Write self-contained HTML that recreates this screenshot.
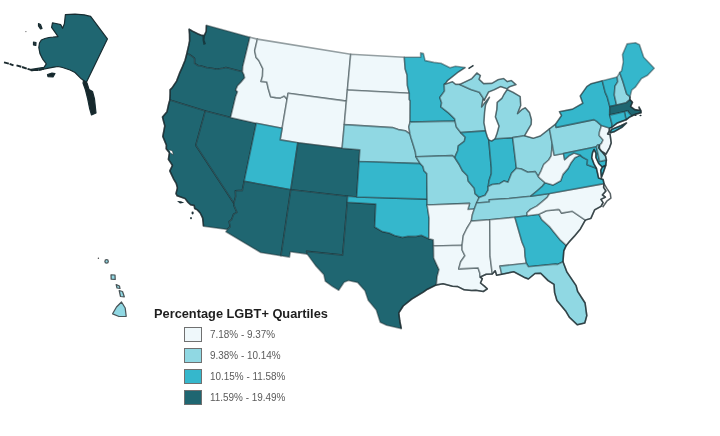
<!DOCTYPE html>
<html><head><meta charset="utf-8"><style>
html,body{margin:0;padding:0;background:#fff;}
body{width:720px;height:436px;overflow:hidden;position:relative;font-family:"Liberation Sans",sans-serif;}
svg{position:absolute;left:0;top:0;}
.d{fill:#1f6671;} .t{fill:#35b7cc;} .l{fill:#90d8e3;} .v{fill:#eff8fb;}
#map path{stroke:rgba(28,46,52,0.45);stroke-width:1.6;stroke-linejoin:round;}
svg{filter:blur(0.45px);}
.lt{position:absolute;left:154px;top:305.5px;font-weight:bold;font-size:12.8px;color:#1e1e1e;filter:blur(0.25px);white-space:nowrap;}
.lb{position:absolute;left:184px;width:16px;height:13px;border:1px solid #707070;}
.ll{position:absolute;left:210px;font-size:10.5px;color:#5a5a5a;filter:blur(0.25px);white-space:nowrap;transform:scaleX(0.945);transform-origin:0 0;}
</style></head><body>
<svg width="720" height="436" viewBox="0 0 720 436">
<g id="map">
<path class="d" d="M206.4,25.2 249.9,37.3 242.8,66.6 242.5,71.8 225.9,67.5 223.1,68.2 216.8,69.3 211.5,68.2 206.8,67.7 201.2,66.0 198.3,65.7 194.6,63.4 194.5,58.4 192.1,56.4 189.2,54.5 186.8,53.7 188.7,45.4 189.6,40.8 189.5,33.9 189.1,29.2 192.5,31.2 197.6,33.7 201.6,35.4 204.4,35.4 206.2,31.3 206.4,25.2Z"/><path class="d" d="M242.5,71.8 225.9,67.5 223.1,68.2 216.8,69.3 211.5,68.2 206.8,67.7 201.2,66.0 198.3,65.7 194.6,63.4 194.5,58.4 192.1,56.4 189.2,54.5 186.8,53.7 185.1,60.3 182.4,66.9 179.5,73.4 176.6,81.1 172.1,87.8 170.1,89.7 170.1,93.9 169.8,100.1 205.3,110.9 230.6,117.5 235.6,96.8 237.5,91.8 235.7,90.1 237.6,85.8 241.0,82.3 244.7,77.7 243.8,74.3 242.5,71.8Z"/><path class="d" d="M169.8,100.1 205.3,110.9 195.8,145.2 233.9,203.3 234.0,205.7 237.0,212.4 233.6,214.3 231.6,219.7 229.1,221.6 230.3,226.6 227.5,229.4 203.5,226.2 203.1,222.2 202.6,217.8 200.2,213.0 197.4,209.9 194.7,208.5 194.2,205.6 190.6,204.8 188.1,202.5 185.1,198.6 177.2,195.8 176.0,193.6 177.4,187.9 176.2,183.3 173.5,178.8 169.8,170.9 172.4,165.5 171.1,163.3 168.4,159.3 169.4,152.8 166.2,148.7 166.4,145.1 162.8,136.5 164.8,125.9 163.7,121.8 162.5,117.0 167.0,111.7 168.8,103.5 169.8,100.1Z"/><path class="d" d="M205.3,110.9 230.6,117.5 256.3,123.3 244.2,181.3 242.3,190.6 238.9,190.5 235.4,190.9 235.7,196.4 233.9,203.3 195.8,145.2 205.3,110.9Z"/><path class="v" d="M249.9,37.3 257.4,39.1 254.7,50.8 256.1,57.4 258.8,60.5 262.8,68.6 262.5,76.3 261.0,81.4 266.8,82.0 268.4,89.0 270.7,96.7 275.7,97.6 280.4,97.9 284.2,96.0 287.1,99.1 282.1,128.3 256.3,123.3 230.6,117.5 235.6,96.8 237.5,91.8 235.7,90.1 237.6,85.8 241.0,82.3 244.7,77.7 243.8,74.3 242.5,71.8 242.8,66.6 249.9,37.3Z"/><path class="v" d="M257.4,39.1 350.7,54.3 347.4,90.0 346.4,101.1 288.1,93.3 287.1,99.1 284.2,96.0 280.4,97.9 275.7,97.6 270.7,96.7 268.4,89.0 266.8,82.0 261.0,81.4 262.5,76.3 262.8,68.6 258.8,60.5 256.1,57.4 254.7,50.8 257.4,39.1Z"/><path class="v" d="M346.4,101.1 288.1,93.3 287.1,99.1 282.1,128.3 280.1,139.9 297.8,142.8 342.1,148.2 344.3,124.6 346.4,101.1Z"/><path class="t" d="M282.1,128.3 256.3,123.3 244.2,181.3 290.8,189.7 297.8,142.8 280.1,139.9 282.1,128.3Z"/><path class="d" d="M342.1,148.2 297.8,142.8 290.8,189.7 347.7,196.3 356.7,197.0 359.1,161.5 359.9,149.7 342.1,148.2Z"/><path class="d" d="M290.8,189.7 244.2,181.3 242.3,190.6 238.9,190.5 235.4,190.9 235.7,196.4 233.9,203.3 234.0,205.7 237.0,212.4 233.6,214.3 231.6,219.7 229.1,221.6 230.3,226.6 227.5,229.4 225.9,231.7 260.7,252.5 281.0,255.8 290.8,189.7Z"/><path class="d" d="M347.7,196.3 290.8,189.7 281.0,255.8 289.5,257.1 290.3,251.8 307.2,254.1 306.6,251.4 342.7,255.1 347.3,202.2 347.7,196.3Z"/><path class="d" d="M347.3,202.2 342.7,255.1 306.6,251.4 307.2,254.1 315.5,265.4 323.8,274.6 325.3,281.2 332.2,286.3 338.7,290.2 344.1,282.2 348.4,280.5 357.6,282.4 365.0,290.7 368.2,300.2 376.3,309.9 380.2,322.2 386.6,325.3 395.3,327.3 401.3,328.6 399.8,321.0 398.8,312.9 403.2,306.0 411.7,299.1 423.3,292.1 427.5,289.2 436.4,284.9 437.1,276.7 439.0,269.6 436.3,263.8 433.7,258.0 433.5,246.0 433.3,239.8 428.9,238.8 421.3,235.2 415.9,236.4 408.0,236.3 402.5,237.4 394.6,235.5 389.3,233.0 382.4,231.6 374.7,227.0 375.8,204.1 347.3,202.2Z"/><path class="t" d="M356.7,197.0 347.7,196.3 347.3,202.2 375.8,204.1 374.7,227.0 382.4,231.6 389.3,233.0 394.6,235.5 402.5,237.4 408.0,236.3 415.9,236.4 421.3,235.2 428.9,238.8 429.1,218.1 427.1,205.0 427.1,199.1 356.7,197.0Z"/><path class="v" d="M350.7,54.3 404.3,57.2 405.2,69.0 407.1,74.9 407.4,85.4 409.3,93.2 347.4,90.0 350.7,54.3Z"/><path class="v" d="M409.3,93.2 347.4,90.0 346.4,101.1 344.3,124.6 392.3,127.6 398.3,129.6 405.2,130.7 410.0,134.0 408.8,126.8 410.1,122.1 410.2,100.8 409.3,99.6 409.3,93.2Z"/><path class="l" d="M410.0,134.0 405.2,130.7 398.3,129.6 392.3,127.6 344.3,124.6 342.1,148.2 359.9,149.7 359.1,161.5 420.2,163.6 417.1,158.8 416.0,156.7 415.3,151.7 413.5,145.8 410.9,137.5 410.0,134.0Z"/><path class="t" d="M420.2,163.6 359.1,161.5 356.7,197.0 427.1,199.1 426.8,173.6 424.0,170.7 423.0,166.5 420.2,163.6Z"/><path class="t" d="M404.3,57.2 420.7,57.3 420.6,52.9 423.4,53.6 425.1,60.6 433.8,62.4 441.0,63.3 450.0,67.7 455.5,66.2 465.2,67.5 457.5,72.6 447.4,80.7 445.8,83.1 444.2,84.3 444.5,91.1 439.8,97.5 441.6,102.8 440.9,106.9 445.3,110.3 448.8,113.1 454.7,118.8 455.0,121.1 410.1,122.1 410.2,100.8 409.3,99.6 409.3,93.2 407.4,85.4 407.1,74.9 405.2,69.0 404.3,57.2Z"/><path class="l" d="M455.0,121.1 410.1,122.1 408.8,126.8 410.0,134.0 410.9,137.5 413.5,145.8 415.3,151.7 416.0,156.7 452.3,155.6 455.2,158.2 455.3,156.1 457.7,150.7 458.3,145.9 464.3,141.4 465.3,137.2 460.7,132.6 456.4,127.0 455.0,121.1Z"/><path class="l" d="M455.2,158.2 452.3,155.6 416.0,156.7 417.1,158.8 420.2,163.6 423.0,166.5 424.0,170.7 426.8,173.6 427.1,199.1 427.1,205.0 469.6,203.4 467.9,209.5 474.3,209.0 476.6,203.0 479.2,197.4 475.1,193.6 474.3,188.3 468.2,181.0 467.4,175.7 462.4,170.6 459.4,164.8 455.2,158.2Z"/><path class="v" d="M474.3,209.0 467.9,209.5 469.6,203.4 427.1,205.0 429.1,218.1 428.9,238.8 433.3,239.8 433.5,246.0 462.1,245.2 463.3,235.7 466.8,228.5 471.3,221.1 472.3,215.1 474.3,209.0Z"/><path class="v" d="M462.1,245.2 433.5,246.0 433.7,258.0 436.3,263.8 439.0,269.6 437.1,276.7 436.4,284.9 443.0,283.8 452.5,286.2 457.8,286.6 464.2,289.8 471.6,290.5 475.8,290.3 483.3,291.5 487.3,288.9 485.0,286.7 480.5,283.0 482.3,278.7 480.1,277.1 479.8,273.0 478.1,267.9 458.7,268.9 460.7,261.8 464.9,255.7 462.1,250.0 462.1,245.2Z"/><path class="l" d="M460.7,132.6 485.5,130.9 483.9,122.7 484.6,112.0 485.6,104.7 489.5,97.2 484.6,103.0 481.6,106.9 483.0,99.0 484.3,100.1 482.3,96.7 479.4,92.2 470.9,89.4 459.8,84.4 455.7,84.4 452.3,81.7 446.7,83.7 444.2,84.3 444.5,91.1 439.8,97.5 441.6,102.8 440.9,106.9 445.3,110.3 448.8,113.1 454.7,118.8 455.0,121.1 456.4,127.0 460.7,132.6Z"/><path class="t" d="M460.7,132.6 485.5,130.9 487.3,136.7 488.8,140.1 491.3,167.9 491.3,173.8 489.1,180.6 488.2,186.6 488.1,190.2 485.2,195.2 479.2,197.4 475.1,193.6 474.3,188.3 468.2,181.0 467.4,175.7 462.4,170.6 459.4,164.8 455.2,158.2 455.3,156.1 457.7,150.7 458.3,145.9 464.3,141.4 465.3,137.2 460.7,132.6Z"/><path class="t" d="M495.1,138.8 491.7,141.0 488.8,140.1 491.3,167.9 491.3,173.8 489.1,180.6 488.2,186.6 492.2,184.5 499.7,183.7 504.1,180.9 508.0,182.3 511.6,173.2 516.4,168.2 512.7,137.6 495.1,138.8Z"/><path class="l" d="M524.5,135.8 512.7,137.6 495.1,138.8 497.1,133.3 499.0,126.0 495.4,116.9 496.8,109.6 497.2,102.4 501.9,98.3 503.9,94.5 507.1,89.6 512.9,92.2 520.2,96.6 520.7,105.5 517.5,113.6 522.1,109.4 525.3,107.8 529.5,112.6 531.4,119.5 531.2,124.3 527.0,131.5 524.5,135.8Z"/><path class="l" d="M459.8,84.4 466.2,81.4 471.7,78.7 476.9,73.0 480.4,75.6 479.1,79.3 483.6,83.6 491.8,83.4 498.0,79.7 503.6,78.5 507.3,81.6 511.3,80.5 516.0,84.6 509.6,86.7 507.0,88.8 500.5,86.6 494.2,89.7 488.6,92.0 484.3,100.1 482.3,96.7 479.4,92.2 470.9,89.4 459.8,84.4Z"/><path class="l" d="M549.5,128.8 540.2,136.1 533.4,138.3 524.5,135.8 512.7,137.6 516.4,168.2 521.3,169.0 527.8,172.3 535.2,171.6 538.2,176.4 541.1,170.8 543.8,164.3 548.7,160.0 551.2,155.9 552.3,144.4 549.5,128.8Z"/><path class="l" d="M538.2,176.4 540.4,178.7 545.2,182.8 542.5,186.1 537.5,190.5 530.8,196.2 508.9,198.5 489.2,199.8 489.4,202.0 476.6,203.0 479.2,197.4 485.2,195.2 488.1,190.2 488.2,186.6 492.2,184.5 499.7,183.7 504.1,180.9 508.0,182.3 511.6,173.2 516.4,168.2 521.3,169.0 527.8,172.3 535.2,171.6 538.2,176.4Z"/><path class="l" d="M471.3,221.1 489.7,219.7 514.9,217.3 527.2,215.8 527.0,212.8 530.5,209.4 536.8,206.1 542.0,201.8 547.2,197.4 549.6,193.5 530.8,196.2 508.9,198.5 489.2,199.8 489.4,202.0 476.6,203.0 474.3,209.0 472.3,215.1 471.3,221.1Z"/><path class="v" d="M471.3,221.1 489.7,219.7 489.8,220.9 490.1,256.4 492.3,273.9 486.2,274.3 480.1,277.1 479.8,273.0 478.1,267.9 458.7,268.9 460.7,261.8 464.9,255.7 462.1,250.0 462.1,245.2 463.3,235.7 466.8,228.5 471.3,221.1Z"/><path class="v" d="M489.7,219.7 514.9,217.3 522.0,242.0 524.6,248.2 525.1,256.4 526.4,263.3 499.9,266.1 501.7,274.2 496.6,275.3 495.2,270.7 492.3,273.9 490.1,256.4 489.8,220.9 489.7,219.7Z"/><path class="t" d="M514.9,217.3 527.2,215.8 538.9,214.2 541.8,219.7 549.8,226.9 554.8,233.3 559.9,239.6 566.3,245.4 563.8,250.9 563.0,261.7 557.7,264.4 555.6,264.1 528.3,266.7 526.4,263.3 525.1,256.4 524.6,248.2 522.0,242.0 514.9,217.3Z"/><path class="l" d="M563.0,261.7 557.7,264.4 555.6,264.1 528.3,266.7 526.4,263.3 499.9,266.1 501.7,274.2 513.9,271.8 523.9,277.2 528.4,279.0 535.0,273.5 540.7,273.3 548.1,280.6 554.0,284.4 554.6,292.6 556.9,300.5 565.6,310.9 569.4,317.3 577.3,324.8 584.8,323.0 586.8,315.6 585.1,303.0 577.6,291.3 576.1,285.6 566.8,271.8 563.0,261.7Z"/><path class="v" d="M538.9,214.2 546.3,210.7 558.4,209.4 559.5,209.8 561.5,213.1 572.1,211.2 585.3,220.1 580.4,228.9 574.6,235.9 569.5,241.6 566.3,245.4 559.9,239.6 554.8,233.3 549.8,226.9 541.8,219.7 538.9,214.2Z"/><path class="v" d="M527.2,215.8 538.9,214.2 546.3,210.7 558.4,209.4 559.5,209.8 561.5,213.1 572.1,211.2 585.3,220.1 590.9,218.4 594.7,209.8 601.0,206.4 603.1,202.6 600.9,199.4 605.4,197.2 602.4,194.9 605.9,191.0 603.6,187.3 604.0,183.6 549.6,193.5 547.2,197.4 542.0,201.8 536.8,206.1 530.5,209.4 527.0,212.8 527.2,215.8Z"/><path class="t" d="M604.0,183.6 549.6,193.5 530.8,196.2 537.5,190.5 542.5,186.1 545.2,182.8 552.9,185.1 560.7,180.8 562.9,174.4 568.0,168.6 570.7,163.3 574.8,157.7 580.2,155.1 582.7,157.3 587.5,159.9 587.1,164.8 596.4,168.3 597.6,173.5 598.6,178.1 603.1,179.5 604.0,183.6Z"/><path class="t" d="M605.8,165.2 603.5,172.1 601.4,177.5 600.7,170.4 602.3,167.0 605.8,165.2Z"/><path class="v" d="M538.2,176.4 540.4,178.7 545.2,182.8 552.9,185.1 560.7,180.8 562.9,174.4 568.0,168.6 570.7,163.3 574.8,157.7 580.2,155.1 573.9,153.0 568.8,155.8 564.6,159.6 563.5,153.5 554.2,155.2 552.3,144.4 551.2,155.9 548.7,160.0 543.8,164.3 541.1,170.8 538.2,176.4Z"/><path class="l" d="M555.5,124.2 549.5,128.8 552.3,144.4 554.2,155.2 563.5,153.5 596.4,146.8 597.7,145.1 599.5,145.1 601.5,143.4 603.1,140.0 599.2,135.4 599.4,132.3 601.5,125.6 596.8,121.4 594.0,119.6 556.1,127.4 555.5,124.2Z"/><path class="t" d="M563.5,153.5 596.4,146.8 599.7,161.5 606.4,159.9 605.8,165.2 602.3,167.0 598.7,163.5 595.9,157.5 595.9,153.2 594.1,149.4 592.5,152.8 591.7,157.8 594.0,164.0 596.4,168.3 587.1,164.8 587.5,159.9 582.7,157.3 580.2,155.1 573.9,153.0 568.8,155.8 564.6,159.6 563.5,153.5Z"/><path class="l" d="M596.4,146.8 597.7,145.1 599.5,145.1 599.5,148.7 605.5,155.9 606.4,159.9 599.7,161.5 596.4,146.8Z"/><path class="v" d="M599.5,145.1 601.5,143.4 603.1,140.0 599.2,135.4 599.4,132.3 601.5,125.6 609.4,128.1 609.2,131.2 607.6,134.0 610.1,134.6 611.2,142.9 609.6,147.6 606.0,154.2 601.0,150.8 598.8,147.7 599.5,145.1Z"/><path class="t" d="M601.5,125.6 596.8,121.4 594.0,119.6 556.1,127.4 555.5,124.2 561.5,115.5 559.4,111.7 572.6,109.1 582.8,103.3 580.2,96.0 586.8,86.6 590.9,83.8 602.3,80.8 605.2,92.4 607.2,96.8 609.8,106.6 609.7,115.1 612.2,124.9 611.5,127.5 609.4,128.1 601.5,125.6Z"/><path class="t" d="M609.7,132.9 614.0,131.8 622.1,127.2 626.5,123.0 620.8,125.7 611.5,129.4 609.7,132.9Z"/><path class="t" d="M602.3,80.8 617.2,76.9 617.7,81.8 615.0,86.2 614.3,95.0 616.6,105.0 609.8,106.6 607.2,96.8 605.2,92.4 602.3,80.8Z"/><path class="l" d="M617.2,76.9 619.7,72.6 622.9,81.5 626.7,94.0 630.0,96.7 629.9,99.6 626.3,102.7 616.6,105.0 614.3,95.0 615.0,86.2 617.7,81.8 617.2,76.9Z"/><path class="t" d="M619.7,72.6 621.6,70.8 623.3,61.8 622.5,54.6 627.1,43.9 635.4,42.7 639.5,44.8 643.7,57.3 654.2,68.2 647.6,75.3 641.5,78.5 635.3,87.2 631.7,90.1 630.0,96.7 626.7,94.0 622.9,81.5 619.7,72.6Z"/><path class="d" d="M629.9,99.6 626.3,102.7 616.6,105.0 609.8,106.6 609.7,115.1 624.3,111.7 627.8,110.7 628.2,112.0 631.7,116.0 635.6,114.3 641.1,112.7 641.0,110.8 639.0,107.1 640.0,110.5 634.7,109.6 630.6,106.5 632.5,102.2 629.9,99.6Z"/><path class="t" d="M631.7,116.0 628.2,112.0 627.8,110.7 624.3,111.7 626.1,119.8 629.5,117.2 631.7,116.0Z"/><path class="t" d="M624.3,111.7 609.7,115.1 612.2,124.9 611.5,127.5 617.3,123.0 626.1,119.8 624.3,111.7Z"/>
</g>
<path d="M465.2,67.5 457.5,72.6 447.4,80.7 445.8,83.1 444.2,84.3 M459.8,84.4 455.7,84.4 452.3,81.7 446.7,83.7 444.2,84.3 M485.5,130.9 483.9,122.7 484.6,112.0 485.6,104.7 489.5,97.2 484.6,103.0 481.6,106.9 483.0,99.0 484.3,100.1 M488.8,140.1 487.3,136.7 485.5,130.9 M495.1,138.8 491.7,141.0 488.8,140.1 M524.5,135.8 527.0,131.5 531.2,124.3 531.4,119.5 529.5,112.6 525.3,107.8 522.1,109.4 517.5,113.6 520.7,105.5 520.2,96.6 512.9,92.2 507.1,89.6 503.9,94.5 501.9,98.3 497.2,102.4 496.8,109.6 495.4,116.9 499.0,126.0 497.1,133.3 495.1,138.8 M459.8,84.4 466.2,81.4 471.7,78.7 476.9,73.0 480.4,75.6 479.1,79.3 483.6,83.6 491.8,83.4 498.0,79.7 503.6,78.5 507.3,81.6 511.3,80.5 516.0,84.6 509.6,86.7 507.0,88.8 500.5,86.6 494.2,89.7 488.6,92.0 484.3,100.1 M549.5,128.8 540.2,136.1 533.4,138.3 524.5,135.8 M555.5,124.2 549.5,128.8 M555.5,124.2 561.5,115.5 559.4,111.7 572.6,109.1 582.8,103.3 580.2,96.0 586.8,86.6 590.9,83.8 602.3,80.8" fill="none" stroke="rgba(28,46,52,0.45)" stroke-width="1.2" stroke-linejoin="round"/>
<path d="M602.6,207.3 606.8,201.2 610.9,198.2 610.3,193.7 606.8,188.4 604.0,183.6 M186.8,53.7 188.7,45.4 189.6,40.8 189.5,33.9 189.1,29.2 192.5,31.2 197.6,33.7 201.6,35.4 204.4,35.4 206.2,31.3 206.4,25.2 M186.8,53.7 185.1,60.3 182.4,66.9 179.5,73.4 176.6,81.1 172.1,87.8 170.1,89.7 170.1,93.9 169.8,100.1 M203.5,226.2 203.1,222.2 202.6,217.8 200.2,213.0 197.4,209.9 194.7,208.5 194.2,205.6 190.6,204.8 188.1,202.5 185.1,198.6 177.2,195.8 176.0,193.6 177.4,187.9 176.2,183.3 173.5,178.8 169.8,170.9 172.4,165.5 171.1,163.3 168.4,159.3 169.4,152.8 166.2,148.7 166.4,145.1 162.8,136.5 164.8,125.9 163.7,121.8 162.5,117.0 167.0,111.7 168.8,103.5 169.8,100.1 M436.4,284.9 427.5,289.2 423.3,292.1 411.7,299.1 403.2,306.0 398.8,312.9 399.8,321.0 401.3,328.6 M480.1,277.1 482.3,278.7 480.5,283.0 485.0,286.7 487.3,288.9 483.3,291.5 475.8,290.3 471.6,290.5 464.2,289.8 457.8,286.6 452.5,286.2 443.0,283.8 436.4,284.9 M492.3,273.9 486.2,274.3 480.1,277.1 M501.7,274.2 496.6,275.3 495.2,270.7 492.3,273.9 M563.0,261.7 566.8,271.8 576.1,285.6 577.6,291.3 585.1,303.0 586.8,315.6 584.8,323.0 577.3,324.8 569.4,317.3 565.6,310.9 556.9,300.5 554.6,292.6 554.0,284.4 548.1,280.6 540.7,273.3 535.0,273.5 528.4,279.0 523.9,277.2 513.9,271.8 501.7,274.2 M566.3,245.4 563.8,250.9 563.0,261.7 M585.3,220.1 580.4,228.9 574.6,235.9 569.5,241.6 566.3,245.4 M585.3,220.1 590.9,218.4 594.7,209.8 601.0,206.4 603.1,202.6 600.9,199.4 605.4,197.2 602.4,194.9 605.9,191.0 603.6,187.3 604.0,183.6 M596.4,168.3 597.6,173.5 598.6,178.1 603.1,179.5 604.0,183.6 M605.8,165.2 603.5,172.1 601.4,177.5 600.7,170.4 602.3,167.0 605.8,165.2 M606.4,159.9 605.8,165.2 602.3,167.0 598.7,163.5 595.9,157.5 595.9,153.2 594.1,149.4 592.5,152.8 591.7,157.8 594.0,164.0 596.4,168.3 M606.4,159.9 605.5,155.9 599.5,148.7 599.5,145.1 M599.5,145.1 598.8,147.7 601.0,150.8 606.0,154.2 609.6,147.6 611.2,142.9 610.1,134.6 607.6,134.0 609.2,131.2 609.4,128.1 M611.5,127.5 609.4,128.1 M609.7,132.9 614.0,131.8 622.1,127.2 626.5,123.0 620.8,125.7 611.5,129.4 609.7,132.9 M630.0,96.7 629.9,99.6 M629.9,99.6 632.5,102.2 630.6,106.5 634.7,109.6 640.0,110.5 639.0,107.1 641.0,110.8 641.1,112.7 635.6,114.3 631.7,116.0 M626.1,119.8 629.5,117.2 631.7,116.0 M626.1,119.8 617.3,123.0 611.5,127.5" fill="none" stroke="rgba(22,36,40,0.72)" stroke-width="1.5" stroke-linejoin="round"/>
<g fill="#1d3036" stroke="none">
<path d="M177,201 181,201.2 184.3,202.8 180,203.6Z"/>
<ellipse cx="192.6" cy="213" rx="1.1" ry="1.4"/>
<ellipse cx="191" cy="218.2" rx="0.9" ry="1.1"/>
<path d="M202.5,35 205,36 204.5,40 206,44 203.5,45 202.5,40Z" fill="#173a40"/>
<ellipse cx="635.5" cy="115.2" rx="1.2" ry="0.8"/>
<path d="M468.5,68.6 473.5,65.3" stroke="#2a3a3e" stroke-width="1.5" fill="none"/>
<ellipse cx="640.5" cy="115.5" rx="1.1" ry="0.7"/>
</g>
<path d="M169.3,149.8 172.5,151 173.3,154.8 170.8,153.2" fill="#fff" stroke="rgba(30,45,50,0.6)" stroke-width="0.9"/>
<g id="ak" style="stroke:#172c31;stroke-width:1.2;stroke-linejoin:round">
<path class="d" d="M65.4,14.6 75,14.2 84.2,14.8 90.6,16.4 107.4,38.9 86.3,82.5 81.3,78.8 75,72.5 70,70 62.5,67.5 58,66.5 53.8,67.2 46,68.6 40,69.8 31.3,70.6 31.3,69.4 44,67.3 46.3,63.8 42.5,58.8 40,53.8 38.8,47.5 39.5,43 41.3,40 45,38.5 48.9,37.5 53,37.2 58,36.6 56.2,33.9 51.6,27.4 52.5,22.8 56,23.5 60.8,24.7 62.6,28.3 64.4,23.8Z"/>
<path d="M83.5,80.5 87,83 89,89.4 92.5,91.5 94.5,99 96,113 91.5,115 89.5,108 87.5,98 85.5,90 83,83Z" fill="#16282c"/>
<path d="M4,62.3 9,63.6 13.5,65.4 M16.5,65.3 22,67 27,68.8 32,70.2 38,70 44,68.8" fill="none" stroke="#1a2a2e" stroke-width="1.9" stroke-dasharray="5 0.8"/>
<path d="M38.5,23.5 40.5,24.5 42,28.5 40.5,29 38.5,26Z" fill="#24343a"/>
<circle cx="25.9" cy="31.6" r="0.6" fill="#555" stroke="none"/>
<path d="M33.5,42 36,42.5 35.8,45.5 33.5,45Z" fill="#24343a"/>
<path d="M47.5,74.5 52,73.1 55,73.5 53,76.9 48,76.6Z" fill="#16282c"/>
</g>
<g id="hi" style="stroke:#4a5558;stroke-width:1.25;stroke-linejoin:round">
<circle cx="98.4" cy="258.3" r="0.7" fill="#444" stroke="none"/>
<circle cx="106.6" cy="261.4" r="1.7" class="l"/>
<path class="l" d="M111,274.8 115,275 115.2,279.5 111.2,279.2Z"/>
<path class="l" d="M116.2,284.6 119.5,286 120,288.5 117,288Z"/>
<path class="l" d="M119.2,290.5 122.5,291.5 124.3,296.8 120.5,296.5Z"/>
<path class="l" d="M121.5,302 125.2,308 126.2,316.3 119,316.5 112.6,313.8 116.5,307Z"/>
</g>
</svg>
<div class="lt">Percentage LGBT+ Quartiles</div>
<div class="lb" style="top:327px;background:#eff8fb"></div>
<div class="lb" style="top:348px;background:#90d8e3"></div>
<div class="lb" style="top:369px;background:#35b7cc"></div>
<div class="lb" style="top:390px;background:#1f6671"></div>
<div class="ll" style="top:328px">7.18% - 9.37%</div>
<div class="ll" style="top:349px">9.38% - 10.14%</div>
<div class="ll" style="top:370px">10.15% - 11.58%</div>
<div class="ll" style="top:391px">11.59% - 19.49%</div>
</body></html>
